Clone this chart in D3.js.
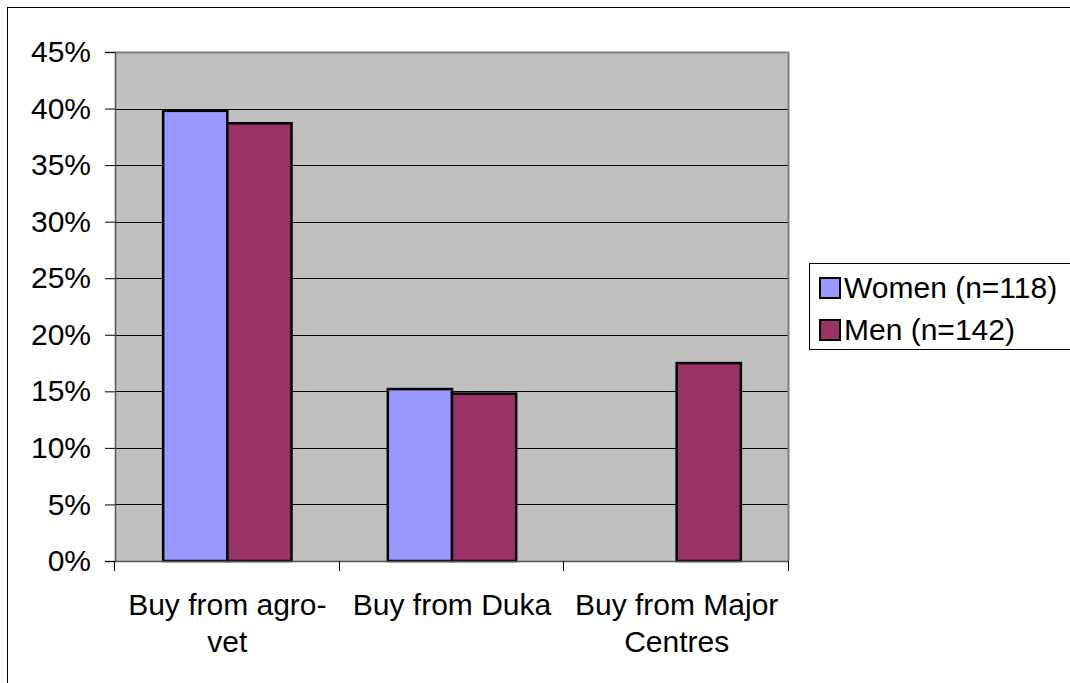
<!DOCTYPE html>
<html>
<head>
<meta charset="utf-8">
<script src="https://cdn.jsdelivr.net/npm/d3@7"></script>
<style>
  html, body { margin: 0; padding: 0; background: #fff; }
  svg { display: block; font-family: "Liberation Sans", Arial, sans-serif; }
</style>
</head>
<body>
<svg id="chart" width="1070" height="683"></svg>
<script>
// Purchase location shares by respondent group
const categories = [["Buy from agro-", "vet"], ["Buy from Duka"], ["Buy from Major", "Centres"]];
const categoryKeys = ["agrovet", "duka", "major"];
const seriesNames = ["Women (n=118)", "Men (n=142)"];
const womenValues = [0.398, 0.152, 0];
const menValues = [0.387, 0.148, 0.175];
const tickValues = [0, 0.05, 0.10, 0.15, 0.20, 0.25, 0.30, 0.35, 0.40, 0.45];
const colors = ["#9999FF", "#993366"];

const svg = d3.select("#chart");
const W = 1070, H = 683;
const FONT = 30;

// outer chart frame
svg.append("rect")
  .attr("x", 7.5).attr("y", 7.5)
  .attr("width", W + 10).attr("height", H + 10)
  .attr("fill", "#fff").attr("stroke", "#000").attr("stroke-width", 1);

const plot = { left: 115, right: 789, top: 52, bottom: 561 };

const x0 = d3.scaleBand()
  .domain(categoryKeys)
  .range([plot.left, plot.right])
  .paddingInner(0).paddingOuter(0);

const x1 = d3.scaleBand()
  .domain([0, 1])
  .range([0, x0.bandwidth()])
  .paddingInner(0).paddingOuter(0.75);

const y = d3.scaleLinear()
  .domain([0, 0.45])
  .range([plot.bottom, plot.top]);

// plot background
svg.append("rect")
  .attr("x", plot.left).attr("y", plot.top)
  .attr("width", plot.right - plot.left)
  .attr("height", plot.bottom - plot.top)
  .attr("fill", "#C0C0C0");

// horizontal gridlines
svg.append("g")
  .selectAll("line")
  .data(tickValues.filter(d => d > 0 && d < 0.45))
  .join("line")
  .attr("x1", plot.left).attr("x2", plot.right)
  .attr("y1", d => Math.round(y(d)) + 0.5).attr("y2", d => Math.round(y(d)) + 0.5)
  .attr("stroke", "#000").attr("stroke-width", 1);

// plot border (top and right)
svg.append("path")
  .attr("d", `M${plot.left},${plot.top + 0.5}H${plot.right - 0.5}V${plot.bottom}`)
  .attr("fill", "none").attr("stroke", "#808080").attr("stroke-width", 2);

// bars
const rows = categoryKeys.map((k, i) => ({ key: k, values: [womenValues[i], menValues[i]] }));
const groups = svg.append("g")
  .selectAll("g")
  .data(rows)
  .join("g")
  .attr("transform", d => `translate(${x0(d.key)},0)`);

groups.selectAll("rect")
  .data(d => d.values.map((v, s) => ({ v, s })).filter(e => e.v > 0))
  .join("rect")
  .attr("x", d => x1(d.s))
  .attr("y", d => y(d.v))
  .attr("width", x1.bandwidth())
  .attr("height", d => y(0) - y(d.v))
  .attr("fill", d => colors[d.s])
  .attr("stroke", "#000")
  .attr("stroke-width", 2.5);

// y axis
const yAxis = d3.axisLeft(y)
  .tickValues(tickValues)
  .tickFormat(d3.format(".0%"))
  .tickSize(10)
  .tickPadding(14);
const yg = svg.append("g")
  .attr("transform", `translate(${plot.left},0)`)
  .call(yAxis);
yg.select(".domain").attr("stroke", "#555").attr("stroke-width", 1.5);
yg.selectAll(".tick line").attr("stroke", "#000");
yg.selectAll(".tick text")
  .attr("font-size", FONT).attr("fill", "#000")
  .attr("font-family", "'Liberation Sans', Arial, sans-serif");

// x axis with category boundary ticks
const xAxisLine = svg.append("g");
xAxisLine.append("line")
  .attr("x1", plot.left).attr("x2", plot.right)
  .attr("y1", plot.bottom + 0.5).attr("y2", plot.bottom + 0.5)
  .attr("stroke", "#555").attr("stroke-width", 1.5);
const boundaries = categoryKeys.map(k => x0(k)).concat([x0(categoryKeys[categoryKeys.length - 1]) + x0.bandwidth()]);
xAxisLine.selectAll("line.bt")
  .data(boundaries)
  .join("line")
  .attr("class", "bt")
  .attr("x1", d => Math.round(d) - 0.5).attr("x2", d => Math.round(d) - 0.5)
  .attr("y1", plot.bottom).attr("y2", plot.bottom + 10)
  .attr("stroke", "#000").attr("stroke-width", 1);

// category labels
const labels = svg.append("g")
  .selectAll("text")
  .data(categoryKeys.map((k, i) => ({ key: k, lines: categories[i] })))
  .join("text")
  .attr("text-anchor", "middle")
  .attr("font-size", FONT)
  .attr("fill", "#000")
  .attr("x", d => x0(d.key) + x0.bandwidth() / 2)
  .attr("y", 615);
labels.selectAll("tspan")
  .data(d => d.lines.map(l => ({ l, x: x0(d.key) + x0.bandwidth() / 2 })))
  .join("tspan")
  .attr("x", d => d.x)
  .attr("dy", (d, i) => i === 0 ? 0 : 37)
  .text(d => d.l);

// legend
const legend = svg.append("g");
legend.append("rect")
  .attr("x", 809.5).attr("y", 263.5)
  .attr("width", 300).attr("height", 86)
  .attr("fill", "#fff").attr("stroke", "#000").attr("stroke-width", 1);
const items = legend.selectAll("g.item")
  .data(seriesNames)
  .join("g")
  .attr("class", "item")
  .attr("transform", (d, i) => `translate(820,${278 + i * 42})`);
items.append("rect")
  .attr("x", 0).attr("y", 0)
  .attr("width", 20).attr("height", 20)
  .attr("fill", (d, i) => colors[i])
  .attr("stroke", "#000").attr("stroke-width", 2);
items.append("text")
  .attr("x", 24).attr("y", 20)
  .attr("font-size", FONT)
  .attr("fill", "#000")
  .text(d => d);
</script>
</body>
</html>
